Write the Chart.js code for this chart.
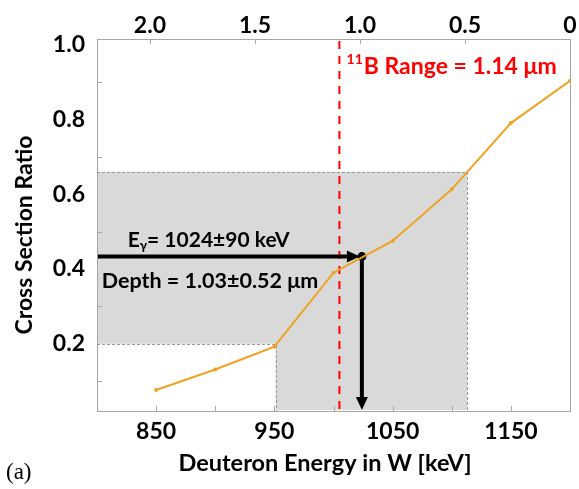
<!DOCTYPE html>
<html>
<head>
<meta charset="utf-8">
<script src="https://cdn.jsdelivr.net/npm/chart.js@4.4.0/dist/chart.umd.min.js"></script>
<style>
html, body { margin: 0; padding: 0; background: #fff; }
</style>
</head>
<body>
<canvas id="myChart" width="579" height="489"></canvas>
<script>
// data
const energies = [850, 900, 950, 1000, 1050, 1100, 1150, 1200];
const ratios = [0.076, 0.131, 0.192, 0.390, 0.475, 0.613, 0.790, 0.903];

const energyTicks = [850, 900, 950, 1000, 1050, 1100, 1150];
const energyLabels = [850, 950, 1050, 1150];
const ratioLabels = [0.2, 0.4, 0.6, 0.8, 1.0];
const ratioMinorTicks = [0.1, 0.3, 0.5, 0.7, 0.9];
const depthTicks = [2.0, 1.5, 1.0, 0.5, 0];

const measuredEnergy = [1024];
const measuredRatio = [0.433];
const ratioBand = [0.2, 0.66];
const energyBand = [951, 1113];
const rangeEnergy = [1005];

const FONT = 'Lato';
const tickFont = { family: FONT, weight: 'bold', size: 23 };
const axisGray = '#a6a6a6';

function drawArrow(ctx, x1, y1, x2, y2) {
    const ang = Math.atan2(y2 - y1, x2 - x1);
    const len = 13, half = 6;
    const bx = x2 - len * Math.cos(ang), by = y2 - len * Math.sin(ang);
    ctx.beginPath();
    ctx.moveTo(x1, y1);
    ctx.lineTo(bx, by);
    ctx.stroke();
    ctx.beginPath();
    ctx.moveTo(x2, y2);
    ctx.lineTo(bx - half * Math.sin(ang), by + half * Math.cos(ang));
    ctx.lineTo(bx + half * Math.sin(ang), by - half * Math.cos(ang));
    ctx.closePath();
    ctx.fill();
}

const overlay = {
    id: 'overlay',
    beforeDatasetsDraw(chart) {
        const { ctx, chartArea: a, scales } = chart;
        const x = scales.x, y = scales.y, x2 = scales.x2;
        const xl = x.getPixelForValue(energyBand[0]);
        const xh = x.getPixelForValue(energyBand[1]);
        const yl = y.getPixelForValue(ratioBand[0]);
        const yh = y.getPixelForValue(ratioBand[1]);
        ctx.save();

        // shaded uncertainty region
        ctx.beginPath();
        ctx.moveTo(a.left + 1, yh);
        ctx.lineTo(xh, yh);
        ctx.lineTo(xh, a.bottom - 1);
        ctx.lineTo(xl, a.bottom - 1);
        ctx.lineTo(xl, yl);
        ctx.lineTo(a.left + 1, yl);
        ctx.closePath();
        ctx.fillStyle = '#d9d9d9';
        ctx.fill();

        ctx.setLineDash([3, 2]);
        ctx.strokeStyle = '#9a9a9a';
        ctx.lineWidth = 1;
        ctx.beginPath();
        ctx.moveTo(a.left, Math.round(yh) + 0.5);
        ctx.lineTo(Math.round(xh) + 0.5, Math.round(yh) + 0.5);
        ctx.lineTo(Math.round(xh) + 0.5, a.bottom);
        ctx.moveTo(a.left, Math.round(yl) + 0.5);
        ctx.lineTo(Math.round(xl) + 0.5, Math.round(yl) + 0.5);
        ctx.lineTo(Math.round(xl) + 0.5, a.bottom);
        ctx.stroke();
        ctx.setLineDash([]);

        // small inside tick marks
        ctx.strokeStyle = axisGray;
        ctx.beginPath();
        energyTicks.forEach(v => {
            const px = Math.round(x.getPixelForValue(v)) + 0.5;
            ctx.moveTo(px, a.bottom);
            ctx.lineTo(px, a.bottom - 5);
        });
        depthTicks.forEach(v => {
            const px = Math.round(x2.getPixelForValue(v)) + 0.5;
            ctx.moveTo(px, a.top);
            ctx.lineTo(px, a.top + 5);
        });
        ratioMinorTicks.forEach(v => {
            const py = Math.round(y.getPixelForValue(v)) + 0.5;
            ctx.moveTo(a.left, py);
            ctx.lineTo(a.left + 5, py);
        });
        ctx.stroke();

        // 11B range line
        const rx = x.getPixelForValue(rangeEnergy[0]);
        ctx.strokeStyle = '#ff0000';
        ctx.lineWidth = 2;
        ctx.setLineDash([8, 7]);
        ctx.beginPath();
        ctx.moveTo(rx, a.top + 2);
        ctx.lineTo(rx, a.bottom);
        ctx.stroke();
        ctx.setLineDash([]);

        // arrows from the measured ratio
        const mx = x.getPixelForValue(measuredEnergy[0]);
        const my = y.getPixelForValue(measuredRatio[0]);
        ctx.strokeStyle = '#000';
        ctx.fillStyle = '#000';
        ctx.lineWidth = 4;
        drawArrow(ctx, a.left + 1, my, mx - 2, my);
        drawArrow(ctx, mx, my, mx, a.bottom - 1);
        ctx.restore();
    },
    afterDraw(chart) {
        const { ctx, scales } = chart;
        const x = scales.x, y = scales.y;
        ctx.save();
        ctx.textBaseline = 'middle';
        ctx.textAlign = 'left';

        // E_gamma label
        let px = x.getPixelForValue(826), py = y.getPixelForValue(0.477);
        ctx.fillStyle = '#000';
        ctx.font = 'bold 21px ' + FONT;
        ctx.fillText('E', px, py);
        px += ctx.measureText('E').width;
        ctx.font = 'bold 13px ' + FONT;
        ctx.fillText('γ', px, py + 6);
        px += ctx.measureText('γ').width;
        ctx.font = 'bold 21px ' + FONT;
        ctx.fillText('= 1024±90 keV', px, py);

        // depth label
        ctx.font = 'bold 21.5px ' + FONT;
        ctx.fillText('Depth = 1.03±0.52 μm', x.getPixelForValue(804), y.getPixelForValue(0.368));

        // range label
        ctx.fillStyle = '#ff0000';
        px = x.getPixelForValue(1011);
        py = y.getPixelForValue(0.941);
        ctx.font = 'bold 14px ' + FONT;
        ctx.fillText('11', px, py - 7);
        px += ctx.measureText('11').width + 1;
        ctx.font = 'bold 23px ' + FONT;
        ctx.fillText('B Range = 1.14 μm', px, py);

        // axis titles
        ctx.fillStyle = '#000';
        ctx.textAlign = 'center';
        ctx.font = 'bold 23.5px ' + FONT;
        ctx.fillText('Deuteron Energy in W [keV]', 325, 463);
        ctx.save();
        ctx.translate(25, 235);
        ctx.rotate(-Math.PI / 2);
        ctx.font = 'bold 23px ' + FONT;
        ctx.fillText('Cross Section Ratio', 0, 0);
        ctx.restore();

        ctx.textAlign = 'left';
        ctx.font = '23px "Liberation Serif"';
        ctx.fillText('(a)', 6, 473);
        ctx.restore();
    }
};

new Chart(document.getElementById('myChart'), {
    type: 'line',
    data: {
        datasets: [{
            data: energies.map((e, i) => ({ x: e, y: ratios[i] })),
            borderColor: '#eea320',
            backgroundColor: '#eea320',
            borderWidth: 2,
            pointRadius: 2,
            pointBorderWidth: 0,
            tension: 0
        }, {
            data: measuredEnergy.map((e, i) => ({ x: e, y: measuredRatio[i] })),
            showLine: false,
            pointRadius: 4.5,
            pointBackgroundColor: '#000',
            pointBorderWidth: 0
        }]
    },
    options: {
        responsive: false,
        animation: false,
        layout: { padding: 0 },
        plugins: { legend: { display: false }, tooltip: { enabled: false } },
        scales: {
            x: {
                type: 'linear',
                position: 'bottom',
                min: 800,
                max: 1200,
                afterBuildTicks: s => { s.ticks = energyLabels.map(v => ({ value: v })); },
                afterFit: s => { s.height = 78; },
                grid: { display: false, drawTicks: false },
                border: { display: true, color: axisGray },
                ticks: {
                    font: tickFont, color: '#000', padding: 7, autoSkip: false, maxRotation: 0,
                    callback: v => String(v)
                }
            },
            x2: {
                type: 'linear',
                position: 'top',
                min: 0,
                max: 2.252,
                reverse: true,
                afterBuildTicks: s => { s.ticks = depthTicks.map(v => ({ value: v })); },
                afterFit: s => { s.height = 39; },
                grid: { display: false, drawTicks: false },
                border: { display: true, color: axisGray },
                ticks: {
                    font: tickFont, color: '#000', padding: 0, autoSkip: false, maxRotation: 0,
                    callback: v => v === 0 ? '0' : v.toFixed(1)
                }
            },
            y: {
                type: 'linear',
                min: 0.02,
                max: 1.015,
                afterBuildTicks: s => { s.ticks = ratioLabels.map(v => ({ value: v })); },
                afterFit: s => { s.width = 97; },
                grid: { display: false, drawTicks: false },
                border: { display: true, color: axisGray },
                ticks: { font: tickFont, color: '#000', padding: 12, callback: v => v.toFixed(1) }
            },
            y2: {
                type: 'linear',
                position: 'right',
                min: 0.02,
                max: 1.015,
                afterFit: s => { s.width = 9; },
                grid: { display: false, drawTicks: false },
                border: { display: true, color: axisGray },
                ticks: { display: false }
            }
        }
    },
    plugins: [overlay]
});
</script>
</body>
</html>
